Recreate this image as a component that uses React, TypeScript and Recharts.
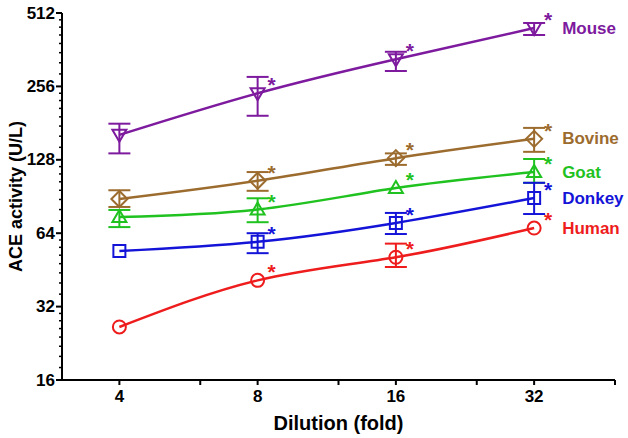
import { ErrorBar, Line, LineChart, XAxis, YAxis } from "recharts";

// dilution folds on the x axis
const dilutions = [4, 8, 16, 32];
const starred = [false, true, true, true];

// mean ACE activity (U/L) and the ends of the error bars, null = bar hidden by the marker
const mouse = [162, 240, 331, 444];
const mouseLo = [136, 194, 296, 416];
const mouseHi = [180, 280, 355, 466];

const bovine = [88.4, 105, 130, 156];
const bovineLo = [82, 95.5, 122, 138];
const bovineHi = [96, 114, 136, 173];

const goat = [74.6, 80, 98, 114];
const goatLo = [67.8, 71, null, 103];
const goatHi = [79.7, 89, null, 129];

const donkey = [54.1, 59, 70.5, 89.2];
const donkeyLo = [null, 53, 63.5, 76.7];
const donkeyHi = [null, 64, 77.5, 103];

const human = [26.4, 41, 51, 67.2];
const humanLo = [null, null, 46.5, null];
const humanHi = [null, null, 58, null];

const yMajor = [16, 32, 64, 128, 256, 512];
const xMajor = [4, 8, 16, 32];
const xMinor = [6, 12, 24, 48];

const FONT = '"Liberation Sans", Arial, sans-serif';

type Shape = "circle" | "square" | "triangle" | "down" | "diamond";

const series: {
  key: string;
  name: string;
  color: string;
  shape: Shape;
  values: number[];
  lo: (number | null)[];
  hi: (number | null)[];
}[] = [
  { key: "mouse", name: "Mouse", color: "#7d1a9e", shape: "down", values: mouse, lo: mouseLo, hi: mouseHi },
  { key: "bovine", name: "Bovine", color: "#9c6b2e", shape: "diamond", values: bovine, lo: bovineLo, hi: bovineHi },
  { key: "goat", name: "Goat", color: "#1fc21f", shape: "triangle", values: goat, lo: goatLo, hi: goatHi },
  { key: "donkey", name: "Donkey", color: "#1414d8", shape: "square", values: donkey, lo: donkeyLo, hi: donkeyHi },
  { key: "human", name: "Human", color: "#ee1c1c", shape: "circle", values: human, lo: humanLo, hi: humanHi },
];

const rows = dilutions.map((d, i) => {
  const row: Record<string, unknown> = { dilution: d };
  series.forEach((s) => {
    const v = s.values[i];
    row[s.key] = v;
    const lo = s.lo[i];
    const hi = s.hi[i];
    row[s.key + "Err"] = lo == null || hi == null ? undefined : [v - lo, hi - v];
  });
  return row;
});

// minor ticks: 7 linear steps inside each doubling
const yMinor: number[] = [];
for (let b = 16; b < 512; b *= 2) {
  for (let k = 1; k < 8; k++) yMinor.push(b * (1 + k / 8));
}
const yTicks = [...yMajor, ...yMinor].sort((a, b) => a - b);
const xTicks = [...xMajor, ...xMinor].sort((a, b) => a - b);

function markerPath(shape: Shape, cx: number, cy: number) {
  switch (shape) {
    case "square":
      return `M${cx - 6},${cy - 6}h12v12h-12Z`;
    case "triangle":
      return `M${cx},${cy - 7}L${cx + 7},${cy + 5}L${cx - 7},${cy + 5}Z`;
    case "down":
      return `M${cx},${cy + 7}L${cx + 7},${cy - 5}L${cx - 7},${cy - 5}Z`;
    case "diamond":
      return `M${cx},${cy - 8}L${cx + 8},${cy}L${cx},${cy + 8}L${cx - 8},${cy}Z`;
    default:
      return "";
  }
}

function makeDot(s: (typeof series)[number]) {
  return (props: any) => {
    const { cx, cy, index } = props;
    if (cx == null || cy == null) return <g key={`d-${s.key}-${index}`} />;
    const last = index === dilutions.length - 1;
    return (
      <g key={`d-${s.key}-${index}`}>
        {s.shape === "circle" ? (
          <circle cx={cx} cy={cy} r={6.5} fill="none" stroke={s.color} strokeWidth={2} />
        ) : (
          <path d={markerPath(s.shape, cx, cy)} fill="none" stroke={s.color} strokeWidth={2} />
        )}
        {starred[index] && (
          <text
            x={cx + 14}
            y={cy - 1}
            textAnchor="middle"
            fontFamily={FONT}
            fontWeight="bold"
            fontSize={21}
            fill={s.color}
          >
            *
          </text>
        )}
        {last && (
          <text
            x={cx + 28}
            y={cy}
            dominantBaseline="central"
            fontFamily={FONT}
            fontWeight="bold"
            fontSize={17}
            fill={s.color}
          >
            {s.name}
          </text>
        )}
      </g>
    );
  };
}

function YTick(props: any) {
  const { x, y, payload } = props;
  const major = yMajor.includes(payload.value);
  const len = major ? 6 : 3;
  return (
    <g>
      <line x1={x - len} x2={x} y1={y} y2={y} stroke="#000" strokeWidth={major ? 2 : 1.5} />
      {major && (
        <text
          x={x - 7}
          y={y}
          textAnchor="end"
          dominantBaseline="central"
          fontFamily={FONT}
          fontWeight="bold"
          fontSize={17}
          fill="#000"
        >
          {payload.value}
        </text>
      )}
    </g>
  );
}

function XTick(props: any) {
  const { x, y, payload } = props;
  const major = xMajor.includes(payload.value);
  return (
    <g>
      <line x1={x} x2={x} y1={y} y2={y + 5} stroke="#000" strokeWidth={2} />
      {major && (
        <text
          x={x}
          y={y + 16}
          textAnchor="middle"
          dominantBaseline="central"
          fontFamily={FONT}
          fontWeight="bold"
          fontSize={17}
          fill="#000"
        >
          {payload.value}
        </text>
      )}
    </g>
  );
}

export default function App() {
  return (
    <div style={{ position: "fixed", left: 0, top: 0, width: 628, height: 438, background: "#fff" }}>
      <LineChart width={628} height={438} data={rows} margin={{ top: 13, right: 13, bottom: 0, left: 0 }}>
        <XAxis
          dataKey="dilution"
          type="number"
          scale="log"
          domain={[3, 48]}
          ticks={xTicks}
          interval={0}
          tick={XTick}
          tickLine={false}
          tickSize={0}
          tickMargin={0}
          axisLine={{ stroke: "#000", strokeWidth: 2 }}
          height={58}
          label={{
            value: "Dilution (fold)",
            position: "insideBottom",
            offset: 8,
            style: { fontFamily: FONT, fontWeight: "bold", fontSize: 20, fill: "#000" },
          }}
        />
        <YAxis
          type="number"
          scale="log"
          domain={[16, 512]}
          ticks={yTicks}
          interval={0}
          tick={YTick}
          tickLine={false}
          tickSize={0}
          tickMargin={0}
          axisLine={{ stroke: "#000", strokeWidth: 2 }}
          width={62}
          label={{
            value: "ACE activity (U/L)",
            angle: -90,
            position: "insideLeft",
            offset: 16,
            style: { fontFamily: FONT, fontWeight: "bold", fontSize: 18, fill: "#000", textAnchor: "middle" },
          }}
        />
        {series.map((s) => (
          <Line
            key={s.key}
            dataKey={s.key}
            type="natural"
            stroke={s.color}
            strokeWidth={2.5}
            dot={makeDot(s)}
            activeDot={false}
            isAnimationActive={false}
          >
            <ErrorBar dataKey={s.key + "Err"} width={11} stroke={s.color} strokeWidth={2} direction="y" />
          </Line>
        ))}
      </LineChart>
    </div>
  );
}
